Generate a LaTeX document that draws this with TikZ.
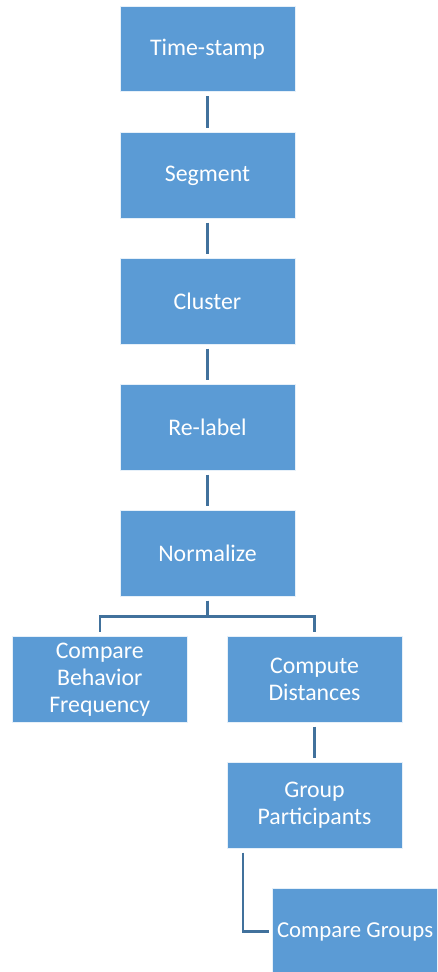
\documentclass[tikz,border=0pt]{standalone}
\usepackage{fontspec}
\setmainfont{Carlito}
\usetikzlibrary{calc}
\definecolor{boxfill}{HTML}{5B9BD5}
\definecolor{linkcol}{HTML}{41719C}
\begin{document}
\begin{tikzpicture}[x=1pt,y=1pt,
  stepbox/.style={draw=white!85!boxfill,line width=0.6pt,fill=boxfill,minimum width=175pt,minimum height=85.5pt,
    inner sep=2pt,text=white,align=center,font=\fontsize{23.8}{26.8}\selectfont},
  link/.style={draw=linkcol,line width=2.2pt,shorten <=4pt,shorten >=4pt}]
\useasboundingbox (0,0) rectangle (437,-972);
\clip (0,0) rectangle (437,-972);
\node[stepbox] (ts) at (207.5,-49) {Time-stamp};
\node[stepbox] (seg) at (207.5,-175.5) {Segment};
\node[stepbox] (clu) at (207.5,-301.5) {Cluster};
\node[stepbox] (rel) at (207.5,-427.5) {Re-label};
\node[stepbox] (nor) at (207.5,-553.5) {Normalize};
\node[stepbox] (cbf) at (99.75,-679.5) {Compare\\Behavior\\Frequency};
\node[stepbox] (cd) at (314.5,-679.5) {Compute\\Distances};
\node[stepbox] (gp) at (314.5,-805.5) {Group\\Participants};
\node[stepbox,font=\fontsize{22.8}{26.8}\selectfont] (cg) at (359.5,-931.5) {\makebox[165pt][l]{Compare Groups}};
\draw[link] (ts) -- (seg);
\draw[link] (seg) -- (clu);
\draw[link] (clu) -- (rel);
\draw[link] (rel) -- (nor);
\draw[link] (nor.south) -- ++(0,-20) -| (cbf.north);
\draw[link] (nor.south) -- ++(0,-20) -| (cd.north);
\draw[link] (cd) -- (gp);
\coordinate (gpl) at ($(gp.south west)+(16,0)$);
\draw[link,shorten >=3pt] (gpl) |- (cg.west);
\end{tikzpicture}
\end{document}
